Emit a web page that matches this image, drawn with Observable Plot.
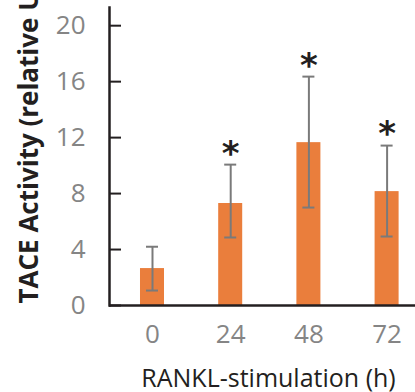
<!DOCTYPE html>
<html>
<head>
<meta charset="utf-8">
<script src="https://cdn.jsdelivr.net/npm/d3@7"></script>
<script src="https://cdn.jsdelivr.net/npm/@observablehq/plot@0.6"></script>
<style>
  html, body { margin: 0; padding: 0; background: #fff; }
  #chart svg { display: block; }
</style>
</head>
<body>
<div id="chart"></div>
<script>
const hours = ["0", "24", "48", "72"];
const activity = [2.64, 7.29, 11.64, 8.14];
const errLow = [1.07, 4.86, 7.0, 4.93];
const errHigh = [4.2, 10.07, 16.36, 11.43];
const significance = ["", "*", "*", "*"];
const yTicks = [0, 4, 8, 12, 16, 20];
const yLabel = "TACE Activity (relative Units)";
const xLabel = "RANKL-stimulation (h)";

const data = hours.map((h, i) => ({h, v: activity[i], lo: errLow[i], hi: errHigh[i], sig: significance[i]}));

const axisColor = "#231f20";
const tickTextColor = "#858585";
const font = "'Open Sans', Lato, sans-serif";

const chart = Plot.plot({
  width: 415,
  height: 392,
  marginLeft: 109,
  marginRight: 0,
  marginTop: 7,
  marginBottom: 87,
  style: {fontFamily: font, background: "#fff"},
  x: {domain: hours, type: "band", paddingInner: 0.693, paddingOuter: 0.303, align: 0.654, round: false},
  y: {domain: [0, 21.3]},
  marks: [
    Plot.barY(data, {x: "h", y: "v", fill: "#ea7e3c"}),
    Plot.ruleX(data, {x: "h", y1: "lo", y2: "hi", stroke: "#7a7a7a", strokeWidth: 2}),
    Plot.tickY(data, {x: "h", y: "lo", stroke: "#7a7a7a", strokeWidth: 2, insetLeft: 6, insetRight: 6}),
    Plot.tickY(data, {x: "h", y: "hi", stroke: "#7a7a7a", strokeWidth: 2, insetLeft: 6, insetRight: 6}),
    Plot.text(data, {x: "h", y: "hi", text: "sig", fontSize: 34, fontWeight: "bold", fontFamily: "'DejaVu Sans', sans-serif", fill: "#231f20", lineAnchor: "middle", dy: -11}),
    Plot.ruleY([0], {stroke: axisColor, strokeWidth: 2.5}),
    Plot.frame({anchor: "left", stroke: axisColor, strokeWidth: 2.5}),
    Plot.axisY({ticks: yTicks, tickSize: -12, tickPadding: 36, stroke: axisColor, strokeWidth: 2, fill: tickTextColor, fontSize: 26, label: null}),
    Plot.axisX({tickSize: 0, tickPadding: 19, fill: tickTextColor, fontSize: 26, label: null}),
    Plot.text([xLabel], {frameAnchor: "bottom", dx: 6, dy: 73, fontSize: 25, fill: "#231f20", lineAnchor: "middle"}),
    Plot.text([yLabel], {frameAnchor: "bottom-left", rotate: -90, textAnchor: "start", lineAnchor: "middle", dx: -80, dy: -2, fontSize: 26, fontWeight: "bold", fill: "#231f20"})
  ]
});
document.getElementById("chart").appendChild(chart);
</script>
</body>
</html>
